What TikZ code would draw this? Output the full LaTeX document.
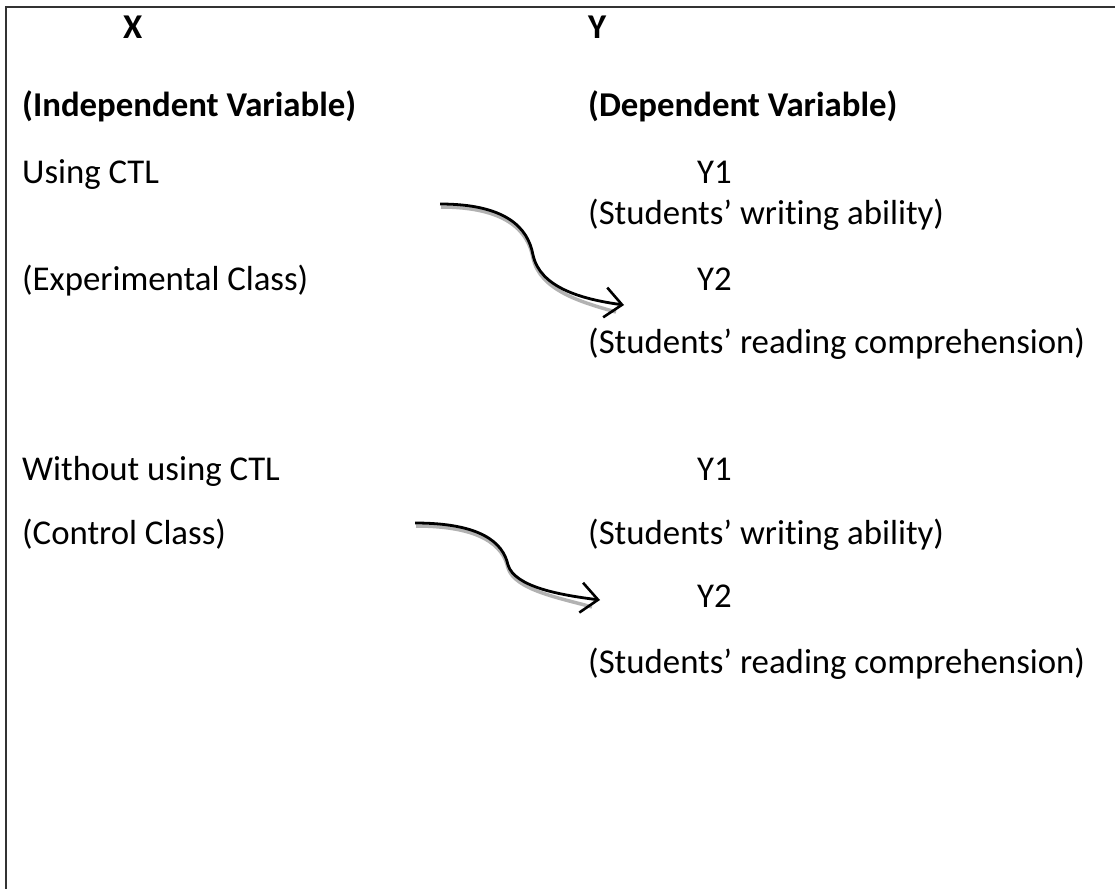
\documentclass[tikz,border=0pt]{standalone}
\usepackage{fontspec}
\setmainfont{Carlito}[Ligatures=NoCommon]
\usetikzlibrary{arrows.meta}

\begin{document}
\begin{tikzpicture}[
    x=1pt, y=-1pt,
    lbl/.style={anchor=base west, inner sep=0pt, font=\fontsize{34.8}{40}\selectfont},
    head/.style={lbl, font=\fontsize{34.8}{40}\selectfont\bfseries},
    arr/.style={-{Straight Barb[length=17pt, width=30pt, line width=2.6pt]}, line width=2.8pt},
    shade/.style={draw=black!30, line width=3.5pt}
]
\useasboundingbox (0,0) rectangle (1115,888);
\draw[black!80, line width=2.5pt] (6,7) rectangle (1140,910);

% headings
\node[head] (x) at (123,39) {X};
\node[head] (y) at (588,39) {Y};
\node[head] (indep) at (22,117) {(Independent Variable)};
\node[head] (dep) at (588,117) {(Dependent Variable)};

% experimental class
\node[lbl] (ctl) at (22,183) {Using CTL};
\node[lbl] (exp) at (22,290) {(Experimental Class)};
\node[lbl] (ya1) at (697,183) {Y1};
\node[lbl] (wa) at (588,224) {(Students’ writing ability)};
\node[lbl] (ya2) at (697,290) {Y2};
\node[lbl] (ra) at (588,353) {(Students’ reading comprehension)};

% control class
\node[lbl] (noctl) at (22,480) {Without using CTL};
\node[lbl] (ctrl) at (22,544) {(Control Class)};
\node[lbl] (yb1) at (697,480) {Y1};
\node[lbl] (wb) at (588,544) {(Students’ writing ability)};
\node[lbl] (yb2) at (697,607) {Y2};
\node[lbl] (rb) at (588,673) {(Students’ reading comprehension)};

\coordinate (s1) at (440,204);
\coordinate (e1) at (624,305);
\coordinate (s2) at (415,523);
\coordinate (e2) at (600,600);

\draw[shade] ([shift={(1,3)}]s1) .. controls (505,207) and (528,230) .. (533,258)
    .. controls (540,290) and (580,302) .. ([shift={(-8,7)}]e1);
\draw[arr] (s1) .. controls (505,204) and (528,227) .. (533,255)
    .. controls (540,287) and (580,299) .. (e1);

\draw[shade] ([shift={(1,3)}]s2) .. controls (480,526) and (503,545) .. (508,568)
    .. controls (515,590) and (560,598) .. ([shift={(-8,7)}]e2);
\draw[arr] (s2) .. controls (480,523) and (503,542) .. (508,565)
    .. controls (515,587) and (560,595) .. (e2);
\end{tikzpicture}
\end{document}
